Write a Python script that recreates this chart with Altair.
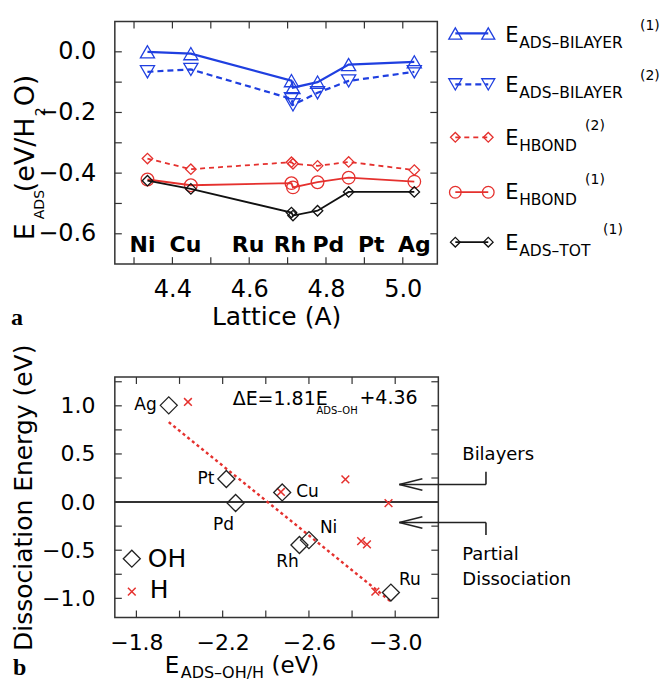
import altair as alt
import pandas as pd

# ---------------- panel (a) values ----------------
metals = ["Ni", "Cu", "Ru", "Rh", "Pd", "Pt", "Ag"]
lattice = [4.335, 4.448, 4.710, 4.714, 4.778, 4.859, 5.030]
e_ads_bilayer_1 = [0.000, -0.006, -0.095, -0.118, -0.100, -0.042, -0.033]
e_ads_bilayer_2 = [-0.066, -0.058, -0.155, -0.175, -0.135, -0.096, -0.066]
e_hbond_2 = [-0.352, -0.387, -0.364, -0.369, -0.376, -0.363, -0.390]
e_hbond_1 = [-0.421, -0.440, -0.433, -0.447, -0.430, -0.415, -0.428]
e_ads_tot_1 = [-0.425, -0.452, -0.530, -0.540, -0.524, -0.462, -0.462]
metal_label_lattice = [4.322, 4.434, 4.597, 4.706, 4.806, 4.918, 5.030]
metal_label_energy = -0.66
a_x_ticks = [4.3, 4.4, 4.5, 4.6, 4.7, 4.8, 4.9, 5.0]
a_x_labels = [4.4, 4.6, 4.8, 5.0]
a_y_ticks = [0.0, -0.1, -0.2, -0.3, -0.4, -0.5, -0.6]
a_y_labels = [0.0, -0.2, -0.4, -0.6]

# ---------------- panel (b) values ----------------
b_metals = ["Ag", "Pt", "Pd", "Cu", "Ni", "Rh", "Ru"]
e_ads_oh = [-1.95, -2.217, -2.26, -2.476, -2.60, -2.556, -2.98]
de_oh = [1.005, 0.24, -0.01, 0.10, -0.395, -0.446, -0.94]
e_ads_h = [-2.039, -2.47, -2.769, -2.969, -2.842, -2.869, -2.908]
de_h = [1.04, 0.105, 0.235, -0.01, -0.405, -0.44, -0.93]
fit_slope = 1.81
fit_intercept = 4.36
b_x_ticks = [-1.8, -2.0, -2.2, -2.4, -2.6, -2.8, -3.0]
b_x_labels = [-1.8, -2.2, -2.6, -3.0]
b_y_ticks = [-1.0, -0.75, -0.5, -0.25, 0.0, 0.25, 0.5, 0.75, 1.0, 1.25]
b_y_labels = [-1.0, -0.5, 0.0, 0.5, 1.0]

# ---------------- styles ----------------
FONT = "DejaVu Sans"
SERIF = "Liberation Serif"
BLUE = "#1f3fe0"
RED = "#e5312e"
BLACK = "#111111"
FRAME = "#333333"
TL = 7
XPATH = "M-1,-1L1,1M-1,1L1,-1"
one = pd.DataFrame({"k": [0]})


def ptext(txt, px, py, size, align="left", baseline="alphabetic", angle=None,
          weight="normal", font=FONT, color="black"):
    kw = dict(text=txt, fontSize=size, align=align, baseline=baseline,
              fontWeight=weight, font=font, color=color)
    if angle is not None:
        kw["angle"] = angle
    return alt.Chart(one).mark_text(**kw).encode(x=alt.value(px), y=alt.value(py))


def pseg(x1, y1, x2, y2, color, width, dash=None):
    kw = dict(color=color, strokeWidth=width)
    if dash:
        kw["strokeDash"] = dash
    return alt.Chart(one).mark_rule(**kw).encode(
        x=alt.value(x1), y=alt.value(y1), x2=alt.value(x2), y2=alt.value(y2))


def ppoint(px, py, shape, size, color, sw):
    return alt.Chart(one).mark_point(shape=shape, size=size, filled=False, color=color,
                                     strokeWidth=sw, opacity=1).encode(
        x=alt.value(px), y=alt.value(py))


# =============== panel (a) ===============
W1, H1 = 323, 243
xs_a = alt.Scale(domain=[4.25, 5.09], nice=False, zero=False)
ys_a = alt.Scale(domain=[-0.7, 0.1], nice=False, zero=False)
ax_xa = alt.Axis(values=a_x_labels, format=".1f", title="Lattice (A)", labelFontSize=24,
                 titleFontSize=25, labelPadding=13, titlePadding=3, ticks=False, tickSize=0,
                 domain=False, grid=False, labelFont=FONT, titleFont=FONT,
                 labelColor="black", titleColor="black", titleFontWeight="normal",
                 labelOverlap=False)
ax_ya = alt.Axis(values=a_y_labels, format=".1f", title=None, labelFontSize=24,
                 labelPadding=19, ticks=False, tickSize=0, domain=False, grid=False,
                 labelFont=FONT, labelColor="black", labelOverlap=False)
XA = alt.X("lattice:Q", scale=xs_a, axis=ax_xa)
YA = alt.Y("energy:Q", scale=ys_a, axis=ax_ya)

series_a = [
    ("bil1", e_ads_bilayer_1, BLUE, None, "triangle-up", 200, 2.2, "ADS\u2013BILAYER", "(1)"),
    ("bil2", e_ads_bilayer_2, BLUE, [6, 4], "triangle-down", 200, 2.2, "ADS\u2013BILAYER", "(2)"),
    ("hb2", e_hbond_2, RED, [5, 4], "diamond", 110, 1.8, "HBOND", "(2)"),
    ("hb1", e_hbond_1, RED, None, "circle", 160, 1.8, "HBOND", "(1)"),
    ("tot", e_ads_tot_1, BLACK, None, "diamond", 110, 1.8, "ADS\u2013TOT", "(1)"),
]

layers_a = []
# frame ticks
tx = pd.DataFrame({"lattice": a_x_ticks})
ty = pd.DataFrame({"energy": a_y_ticks})
layers_a += [
    alt.Chart(tx).mark_rule(color=FRAME, strokeWidth=1.2).encode(x=XA, y=alt.value(0), y2=alt.value(TL)),
    alt.Chart(tx).mark_rule(color=FRAME, strokeWidth=1.2).encode(x=XA, y=alt.value(H1), y2=alt.value(H1 - TL)),
    alt.Chart(ty).mark_rule(color=FRAME, strokeWidth=1.2).encode(y=YA, x=alt.value(0), x2=alt.value(TL)),
    alt.Chart(ty).mark_rule(color=FRAME, strokeWidth=1.2).encode(y=YA, x=alt.value(W1), x2=alt.value(W1 - TL)),
]

for key, vals, color, dash, shape, size, sw, sub, sup in series_a:
    d = pd.DataFrame({"metal": metals, "order": list(range(len(metals))),
                      "lattice": lattice, "energy": vals})
    lk = dict(color=color, strokeWidth=sw)
    if dash:
        lk["strokeDash"] = dash
    layers_a.append(alt.Chart(d).mark_line(**lk).encode(x=XA, y=YA, order="order:Q"))
    layers_a.append(alt.Chart(d).mark_point(shape=shape, size=size, filled=False, color=color,
                                            strokeWidth=1.3, opacity=1).encode(x=XA, y=YA))

lab_a = pd.DataFrame({"metal": metals, "lattice": metal_label_lattice,
                      "energy": [metal_label_energy] * len(metals)})
layers_a.append(alt.Chart(lab_a).mark_text(font=FONT, fontSize=22, fontWeight="bold",
                                           align="center", baseline="alphabetic",
                                           color="black").encode(x=XA, y=YA, text="metal:N"))

# custom legend (pixel layout, relative to plot origin)
leg_sym_y = [12, 63, 116, 171, 221]
leg_E_base = [21, 71, 124, 178, 229]
leg_sup_x = [526, 526, 471, 471, 489]
leg_sup_base = [9, 59, 109, 163, 213]
for i, (key, vals, color, dash, shape, size, sw, sub, sup) in enumerate(series_a):
    sy = leg_sym_y[i]
    layers_a.append(pseg(341, sy, 374, sy, color, sw, dash))
    layers_a.append(ppoint(341, sy, shape, size * 0.85, color, 1.3))
    layers_a.append(ppoint(374, sy, shape, size * 0.85, color, 1.3))
    layers_a.append(ptext("E", 391, leg_E_base[i], 21))
    layers_a.append(ptext(sub, 405, leg_E_base[i] + 6, 15.5))
    layers_a.append(ptext(sup, leg_sup_x[i], leg_sup_base[i], 14))

# rotated y title  E_ADS (eV/H2O)
layers_a += [
    ptext("E", -81, 219, 27, angle=270),
    ptext("ADS", -71, 198, 14, angle=270),
    ptext("(eV/H", -81, 171, 27, angle=270),
    ptext("2", -70, 95, 14, angle=270),
    ptext("O)", -81, 85, 27, angle=270),
    ptext("a", -104, 304, 24, weight="bold", font=SERIF),
]

top = alt.layer(*layers_a).properties(width=W1, height=H1)

# =============== panel (b) ===============
W2, H2 = 324, 241
xs_b = alt.Scale(domain=[-3.2, -1.7], reverse=True, nice=False, zero=False)
ys_b = alt.Scale(domain=[-1.2, 1.3], nice=False, zero=False)
ax_xb = alt.Axis(values=b_x_labels, format=".1f", title=None, labelFontSize=22,
                 labelPadding=15, ticks=False, tickSize=0, domain=False, grid=False,
                 labelFont=FONT, labelColor="black", labelOverlap=False)
ax_yb = alt.Axis(values=b_y_labels, format=".1f", title="Dissociation Energy (eV)",
                 labelFontSize=22, titleFontSize=25, labelPadding=20, titlePadding=5,
                 ticks=False, tickSize=0, domain=False, grid=False, labelFont=FONT,
                 titleFont=FONT, labelColor="black", titleColor="black",
                 titleFontWeight="normal", labelOverlap=False)
XB = alt.X("e:Q", scale=xs_b, axis=ax_xb)
YB = alt.Y("de:Q", scale=ys_b, axis=ax_yb)

layers_b = []
bx = pd.DataFrame({"e": b_x_ticks})
by = pd.DataFrame({"de": b_y_ticks})
layers_b += [
    alt.Chart(bx).mark_rule(color=FRAME, strokeWidth=1.2).encode(x=XB, y=alt.value(0), y2=alt.value(TL)),
    alt.Chart(bx).mark_rule(color=FRAME, strokeWidth=1.2).encode(x=XB, y=alt.value(H2), y2=alt.value(H2 - TL)),
    alt.Chart(by).mark_rule(color=FRAME, strokeWidth=1.2).encode(y=YB, x=alt.value(0), x2=alt.value(TL)),
    alt.Chart(by).mark_rule(color=FRAME, strokeWidth=1.2).encode(y=YB, x=alt.value(W2), x2=alt.value(W2 - TL)),
]

zero_df = pd.DataFrame({"de": [0.0]})
layers_b.append(alt.Chart(zero_df).mark_rule(color="#333333", strokeWidth=2).encode(y=YB))

fit_df = pd.DataFrame({"e": [max(e_ads_oh), min(e_ads_oh)]})
fit_df["de"] = fit_slope * fit_df["e"] + fit_intercept
layers_b.append(alt.Chart(fit_df).mark_line(color=RED, strokeWidth=2.4, strokeDash=[3, 3]).encode(x=XB, y=YB))

oh_df = pd.DataFrame({"metal": b_metals, "e": e_ads_oh, "de": de_oh})
h_df = pd.DataFrame({"metal": b_metals, "e": e_ads_h, "de": de_h})
layers_b.append(alt.Chart(h_df).mark_point(shape=XPATH, size=60, filled=False, color=RED,
                                           strokeWidth=1.5, opacity=1).encode(x=XB, y=YB))
layers_b.append(alt.Chart(oh_df).mark_point(shape="diamond", size=290, filled=False, color="#222222",
                                            strokeWidth=1.3, opacity=1).encode(x=XB, y=YB))

label_offsets = {
    "Ag": ("right", -12, 0),
    "Pt": ("right", -12, 0),
    "Pd": ("center", -12, 22),
    "Cu": ("left", 14, 0),
    "Ni": ("left", 11, -12),
    "Rh": ("center", -12, 17),
    "Ru": ("left", 8, -13),
}
for m in b_metals:
    al, ddx, ddy = label_offsets[m]
    layers_b.append(
        alt.Chart(oh_df).transform_filter(alt.datum.metal == m).mark_text(
            font=FONT, fontSize=17, align=al, baseline="middle", dx=ddx, dy=ddy, color="black"
        ).encode(x=XB, y=YB, text="metal:N"))

# equation
layers_b += [
    ptext("\u0394E=1.81E", 118, 28, 19),
    ptext("ADS\u2013OH", 202, 37, 10),
    ptext("+4.36", 245, 27, 19),
]
# OH / H legend
layers_b += [
    ppoint(17, 182, "diamond", 290, "#222222", 1.3),
    ptext("OH", 33, 182, 25, baseline="middle"),
    ppoint(17, 215, XPATH, 60, RED, 1.5),
    ptext("H", 35, 213, 25, baseline="middle"),
]
# arrows and notes
AC = "#222222"
layers_b += [
    pseg(371.7, 95, 371.7, 107.7, AC, 1.6),
    pseg(285, 107.7, 371.7, 107.7, AC, 1.6),
    pseg(285, 107.7, 308, 102, AC, 1.6),
    pseg(285, 107.7, 308, 113.5, AC, 1.6),
    pseg(285, 145.7, 371.7, 145.7, AC, 1.6),
    pseg(371.7, 145.7, 371.7, 158.3, AC, 1.6),
    pseg(285, 145.7, 308, 140, AC, 1.6),
    pseg(285, 145.7, 308, 151.5, AC, 1.6),
    ptext("Bilayers", 348, 83, 18),
    ptext("Partial", 348, 183, 18),
    ptext("Dissociation", 348, 208, 18),
]
# x title E_ADS-OH/H (eV) and panel letter
layers_b += [
    ptext("E", 50, 297, 23),
    ptext("ADS\u2013OH/H", 66, 302, 16),
    ptext("(eV)", 157, 297, 23),
    ptext("b", -102, 299, 24, weight="bold", font=SERIF),
]

bottom = alt.layer(*layers_b).properties(width=W2, height=H2)

chart = alt.vconcat(top, bottom, spacing=113, bounds="flush").properties(
    padding={"left": 10, "top": 18, "right": 2, "bottom": 0}
).configure_view(stroke=FRAME, strokeWidth=1.5).configure_axis(grid=False)

chart.save("out.html", embed_options={"renderer": "svg", "actions": False})
